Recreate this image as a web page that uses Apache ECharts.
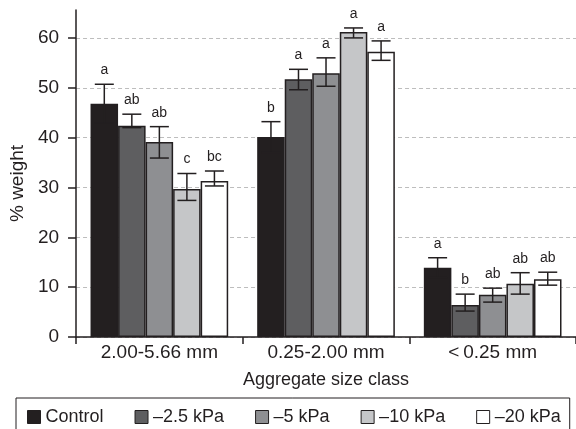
<!DOCTYPE html>
<html>
<head>
<meta charset="utf-8">
<script src="https://cdn.jsdelivr.net/npm/echarts@6/dist/echarts.min.js"></script>
<style>html,body{margin:0;padding:0;background:#fff}#c{width:576px;height:429px}</style>
</head>
<body>
<div id="c"></div>
<script>
const categories = ['2.00-5.66 mm', '0.25-2.00 mm', '<\u20090.25 mm'];
const seriesNames = ['Control', '\u20132.5 kPa', '\u20135 kPa', '\u201310 kPa', '\u201320 kPa'];
const yTicks = [0, 10, 20, 30, 40, 50, 60];

const meanControl = [46.8, 40.1, 13.9];
const mean2_5 = [42.4, 51.7, 6.4];
const mean5 = [39.1, 52.9, 8.5];
const mean10 = [29.7, 61.2, 10.7];
const mean20 = [31.3, 57.2, 11.6];

const upperControl = [50.7, 43.2, 15.9];
const upper2_5 = [44.7, 53.7, 8.6];
const upper5 = [42.2, 56.0, 9.8];
const upper10 = [32.8, 62.0, 12.9];
const upper20 = [33.3, 59.4, 13.0];

const lowerControl = [42.9, 37.0, 11.9];
const lower2_5 = [42.0, 49.6, 5.2];
const lower5 = [35.9, 50.3, 7.0];
const lower10 = [27.4, 60.0, 8.6];
const lower20 = [30.3, 55.5, 10.4];

const lettersControl = ['a', 'b', 'a'];
const letters2_5 = ['ab', 'a', 'b'];
const letters5 = ['ab', 'a', 'ab'];
const letters10 = ['c', 'a', 'ab'];
const letters20 = ['bc', 'a', 'ab'];

const means = [meanControl, mean2_5, mean5, mean10, mean20];
const uppers = [upperControl, upper2_5, upper5, upper10, upper20];
const lowers = [lowerControl, lower2_5, lower5, lower10, lower20];
const letters = [lettersControl, letters2_5, letters5, letters10, letters20];
const colors = ['#231f20', '#5e5e60', '#8e8f92', '#c5c6c8', '#ffffff'];

const FONT = '"Liberation Sans", Arial, sans-serif';
const INK = '#231f20';
const GAP = 0.174;

const chart = echarts.init(document.getElementById('c'), null, {renderer: 'canvas'});

const series = [];
means.forEach((m, i) => {
  series.push({
    name: seriesNames[i], type: 'bar', data: m,
    barGap: '0%', barCategoryGap: (GAP * 100) + '%',
    itemStyle: {color: colors[i], borderColor: INK, borderWidth: 1.5},
    z: 2
  });
});
means.forEach((m, i) => {
  series.push({
    name: 'err' + i, type: 'custom', z: 5,
    data: m.map((v, ci) => [ci, lowers[i][ci], uppers[i][ci]]),
    renderItem: function (params, api) {
      const ci = api.value(0), lo = api.value(1), hi = api.value(2);
      const band = api.size([1, 0])[0];
      const bw = band * (1 - GAP) / 5;
      const x = api.coord([ci, 0])[0] + (i - 2) * bw;
      const yl = api.coord([ci, lo])[1], yh = api.coord([ci, hi])[1];
      const hc = 9.5;
      const st = {stroke: INK, lineWidth: 1.5};
      return {
        type: 'group',
        children: [
          {type: 'line', shape: {x1: x, y1: yl, x2: x, y2: yh}, style: st},
          {type: 'line', shape: {x1: x - hc, y1: yh, x2: x + hc, y2: yh}, style: st},
          {type: 'line', shape: {x1: x - hc, y1: yl, x2: x + hc, y2: yl}, style: st},
          {type: 'text', style: {text: letters[i][params.dataIndex], x: x, y: yh - 7,
            align: 'center', verticalAlign: 'bottom', fontSize: 14, fontFamily: FONT, fill: INK}}
        ]
      };
    }
  });
});

chart.setOption({
  animation: false,
  backgroundColor: '#fff',
  grid: {left: 75, right: -5, top: 10, bottom: 92, containLabel: false},
  xAxis: {
    type: 'category', data: categories,
    name: 'Aggregate size class', nameLocation: 'middle', nameGap: 34,
    nameTextStyle: {fontSize: 18, fontFamily: FONT, color: INK},
    axisLine: {lineStyle: {color: INK, width: 1.5}},
    axisTick: {show: true, length: 7, lineStyle: {color: INK, width: 1.5}},
    axisLabel: {fontSize: 19, fontFamily: FONT, color: INK, margin: 6, interval: 0, hideOverlap: false},
    splitLine: {show: false}
  },
  yAxis: {
    type: 'value', min: 0, max: 65.6, interval: 10,
    name: '% weight', nameLocation: 'middle', nameGap: 47,
    nameTextStyle: {fontSize: 19, fontFamily: FONT, color: INK, padding: [0, 20, 0, 0]},
    axisLine: {show: true, lineStyle: {color: INK, width: 1.5}},
    axisTick: {show: true, length: 8, lineStyle: {color: INK, width: 1.5}, customValues: yTicks},
    axisLabel: {fontSize: 19, fontFamily: FONT, color: INK, margin: 17, customValues: yTicks},
    splitLine: {show: true, lineStyle: {color: '#bdbdbd', width: 1, type: [4, 3]}}
  },
  legend: {
    data: seriesNames, left: 16, top: 398, width: 560, orient: 'horizontal',
    padding: [10, 9, 12, 11], borderColor: INK, borderWidth: 1,
    itemWidth: 13, itemHeight: 13, itemGap: 31, icon: 'rect',
    itemStyle: {borderColor: INK, borderWidth: 1},
    textStyle: {fontSize: 18, fontFamily: FONT, color: INK}
  },
  series: series
});
</script>
</body>
</html>
